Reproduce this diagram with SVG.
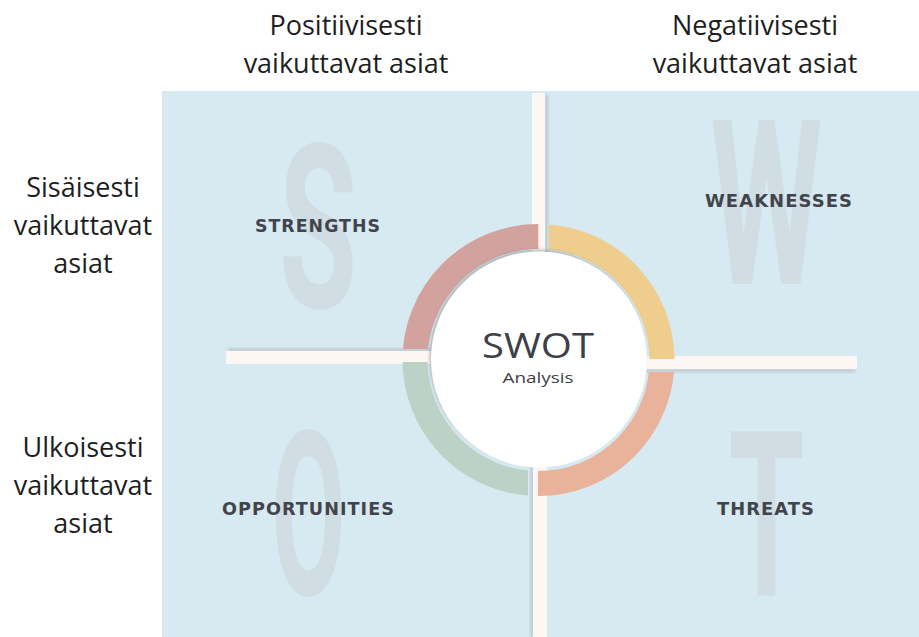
<svg xmlns="http://www.w3.org/2000/svg" width="919" height="637" viewBox="0 0 919 637">
  <style>
    .hdr { font-family: "Open Sans", "Liberation Sans", sans-serif; font-size: 27px; fill: #1e1e1e; text-anchor: middle; }
    .big { font-family: "Roboto", "Liberation Sans", sans-serif; font-weight: 700; font-size: 230px; fill: #d0dde3; text-anchor: middle; }
    .lbl { font-family: "DejaVu Sans", "Open Sans", sans-serif; font-weight: 700; font-size: 17px; fill: #41454b; text-anchor: middle; letter-spacing: 1px; }
    .bar { fill: #fcf7f2; }
    .sh { fill: #9a9a9a; opacity: 0.45; filter: url(#blur); }
    .ring { fill: none; stroke-width: 25; }
  </style>
  <defs>
    <filter id="blur" x="-50%" y="-50%" width="200%" height="200%">
      <feGaussianBlur stdDeviation="1.6"/>
    </filter>
    <filter id="csh" x="-20%" y="-20%" width="140%" height="140%">
      <feDropShadow dx="-1.5" dy="-2" stdDeviation="1.8" flood-color="#808080" flood-opacity="0.5"/>
    </filter>
    <clipPath id="cRed"><rect x="380" y="200" width="158.3" height="149"/></clipPath>
    <clipPath id="cYel"><rect x="549" y="200" width="150" height="159"/></clipPath>
    <clipPath id="cOra"><rect x="538" y="372" width="160" height="150"/></clipPath>
    <clipPath id="cGrn"><rect x="380" y="362" width="148" height="160"/></clipPath>
  </defs>

  <rect id="background" x="162" y="91" width="757" height="546" fill="#d7e9f1"/>

  <g id="headers">
    <text class="hdr" x="346" y="35">Positiivisesti</text>
    <text class="hdr" x="346" y="73">vaikuttavat asiat</text>
    <text class="hdr" x="755" y="35">Negatiivisesti</text>
    <text class="hdr" x="755" y="73">vaikuttavat asiat</text>
    <text class="hdr" x="83" y="197">Sisäisesti</text>
    <text class="hdr" x="83" y="235">vaikuttavat</text>
    <text class="hdr" x="83" y="273">asiat</text>
    <text class="hdr" x="83" y="457">Ulkoisesti</text>
    <text class="hdr" x="83" y="495">vaikuttavat</text>
    <text class="hdr" x="83" y="533">asiat</text>
  </g>

  <g id="strengths">
    <text class="big" x="318" y="308" textLength="78" lengthAdjust="spacingAndGlyphs">S</text>
    <text class="lbl" x="318" y="232" textLength="126" lengthAdjust="spacingAndGlyphs">STRENGTHS</text>
  </g>
  <g id="weaknesses">
    <text class="big" x="766.5" y="284" textLength="112" lengthAdjust="spacingAndGlyphs">W</text>
    <text class="lbl" x="779" y="207" textLength="148" lengthAdjust="spacingAndGlyphs">WEAKNESSES</text>
  </g>
  <g id="opportunities">
    <text class="big" x="308.5" y="595" textLength="74" lengthAdjust="spacingAndGlyphs">O</text>
    <text class="lbl" x="308.5" y="515" textLength="173" lengthAdjust="spacingAndGlyphs">OPPORTUNITIES</text>
  </g>
  <g id="threats">
    <text class="big" x="766.5" y="595" textLength="76" lengthAdjust="spacingAndGlyphs">T</text>
    <text class="lbl" x="766" y="515" textLength="98" lengthAdjust="spacingAndGlyphs">THREATS</text>
  </g>

  <g id="connectors">
    <rect class="sh" x="545" y="95" width="3" height="160"/>
    <rect class="bar" x="532" y="93" width="13" height="165"/>
    <rect class="sh" x="228" y="348.5" width="205" height="3"/>
    <rect class="bar" x="226" y="351" width="207" height="13"/>
    <rect class="sh" x="645" y="369" width="210" height="3"/>
    <rect class="bar" x="645" y="356" width="212" height="13"/>
    <rect class="sh" x="530.5" y="465" width="3" height="172"/>
    <rect class="bar" x="533" y="462" width="14" height="175"/>
  </g>

  <g id="ring">
    <circle class="ring" cx="538.5" cy="360" r="123.5" stroke="#d4a29e" clip-path="url(#cRed)"/>
    <circle class="ring" cx="538.5" cy="360" r="123.5" stroke="#efcd8d" clip-path="url(#cYel)"/>
    <circle class="ring" cx="538.5" cy="360" r="123.5" stroke="#e9b29a" clip-path="url(#cOra)"/>
    <circle class="ring" cx="538.5" cy="360" r="123.5" stroke="#bdd2c6" clip-path="url(#cGrn)"/>
  </g>

  <g id="center">
    <circle cx="539" cy="359.5" r="108" fill="#ffffff" filter="url(#csh)"/>
    <text x="538" y="358" font-family="Open Sans, Liberation Sans, sans-serif" font-size="35" font-weight="500" fill="#3d4147" text-anchor="middle" textLength="112" lengthAdjust="spacingAndGlyphs">SWOT</text>
    <text x="538" y="383" font-family="Open Sans, Liberation Sans, sans-serif" font-size="15" font-weight="500" fill="#3d4147" text-anchor="middle" textLength="71" lengthAdjust="spacingAndGlyphs">Analysis</text>
  </g>
</svg>
